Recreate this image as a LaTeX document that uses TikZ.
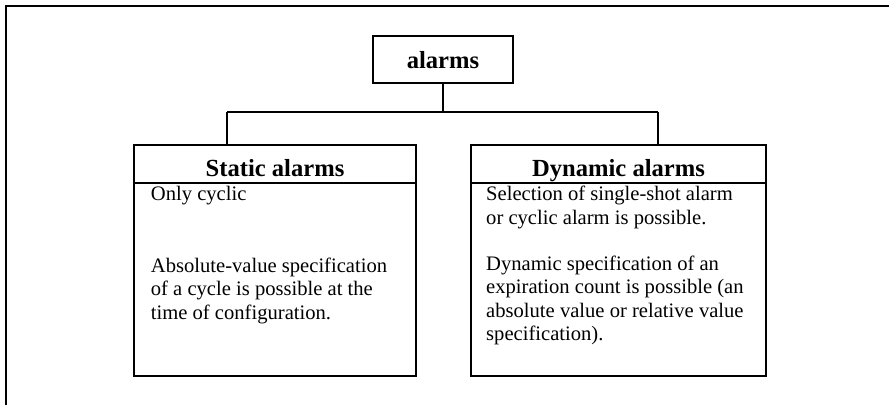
\documentclass[tikz,border=0pt]{standalone}
\usepackage{fontspec}
\setmainfont{Liberation Serif}
\usetikzlibrary{positioning}

\tikzset{
  box/.style={draw, line width=1.3pt, inner sep=0pt},
  headtext/.style={font=\fontsize{24.6}{28}\selectfont\bfseries, inner sep=0pt, anchor=base},
  bodytext/.style={font=\fontsize{20.6}{23.4}\selectfont, align=left, inner sep=0pt, anchor=base west},
  link/.style={line width=1.2pt}
}

\begin{document}
\begin{tikzpicture}[x=1pt,y=-1pt]
\useasboundingbox (0,0) rectangle (889,405);

% outer frame
\draw[line width=1.5pt] (6,405) -- (6,6) -- (889,6);

% top box
\node[box, minimum width=140pt, minimum height=47pt] (alarms) at (443,59.5) {};
\node[headtext] (alarmslabel) at (443,68.3) {alarms};

% the two boxes
\node[box, minimum width=282pt, minimum height=231pt] (static) at (275,260.5) {};
\node[box, minimum width=282pt, minimum height=38pt] (stathead) at (275,164) {};
\node[box, minimum width=295pt, minimum height=231pt] (dynamic) at (618.5,260.5) {};
\node[box, minimum width=295pt, minimum height=38pt] (dynhead) at (618.5,164) {};

\node[headtext] (statlabel) at (275,176) {Static alarms};
\node[headtext] (dynlabel) at (618.5,176) {Dynamic alarms};

% base anchor is the baseline of the last line
\node[bodytext] (statA) at (150.7,200.7) {Only cyclic};
\node[bodytext] (statB) at (150.7,319.3) {Absolute-value specification\\of a cycle is possible at the\\time of configuration.};

\node[bodytext] (dynA) at (486,224) {Selection of single-shot alarm\\or cyclic alarm is possible.};
\node[bodytext] (dynB) at (486,340.7) {Dynamic specification of an\\expiration count is possible (an\\absolute value or relative value\\specification).};

% connectors
\coordinate (busl) at (227,112);
\coordinate (busr) at (658,112);
\draw[link] (alarms) -- (alarms |- busl);
\draw[link] (busl) -- (busr);
\draw[link] (busl) -- (busl |- stathead.north);
\draw[link] (busr) -- (busr |- dynhead.north);

\end{tikzpicture}
\end{document}
